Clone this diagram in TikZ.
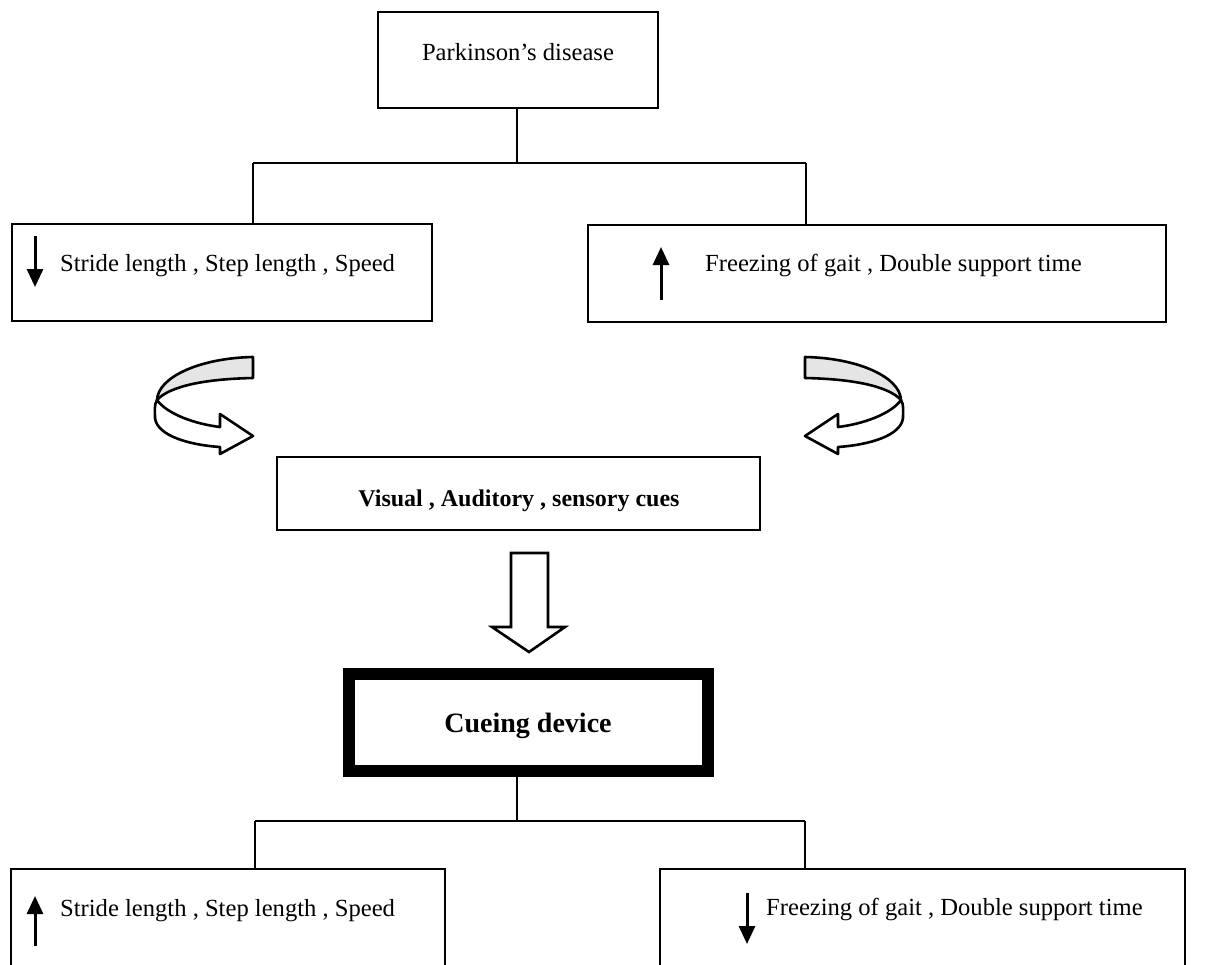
\documentclass[tikz,border=0pt]{standalone}
\usepackage{fontspec}
\setmainfont{Liberation Serif}
\usetikzlibrary{arrows.meta}
\newcommand\turnarrowpaths{%
  % lower (white) band with arrow head
  \draw[band, fill=white] (157,400) .. controls (154,405) and (155,410) .. (155,418)
    .. controls (157,436) and (190,445) .. (220,447) -- (220,454) -- (253,436) -- (220,414)
    -- (220,427) .. controls (195,424) and (167,414) .. (157,400) -- cycle;
  % upper (shaded) band
  \draw[band, fill=gray!20] (253,357) -- (253,378) .. controls (205,379) and (170,386) .. (157,400)
    .. controls (158,377) and (200,358) .. (253,357) -- cycle;
}
\begin{document}
\begin{tikzpicture}[x=1pt,y=-1pt,
  box/.style={draw, line width=2.5pt, inner sep=0pt},
  thickbox/.style={draw, line width=12pt, inner sep=0pt},
  conn/.style={line width=2.5pt},
  band/.style={line width=2.6pt, line join=round},
  txt/.style={inner sep=0pt, font=\fontsize{24.6}{29}\selectfont},
  btxt/.style={inner sep=0pt, font=\fontsize{24}{29}\selectfont\bfseries},
  bigtxt/.style={inner sep=0pt, font=\fontsize{28}{34}\selectfont\bfseries},
  updown/.style={line width=3pt, -{Triangle[length=18pt,width=16pt]}}
]
\fill[white] (0,0) rectangle (1223,964);
\useasboundingbox (0,0) rectangle (1223,964);

% boxes
\node[box, minimum width=280, minimum height=96] (pd) at (518,60) {};
\node[box, minimum width=420, minimum height=97] (tl) at (222,272.5) {};
\node[box, minimum width=578, minimum height=97] (tr) at (877,273.5) {};
\node[box, minimum width=483, minimum height=73] (vis) at (518.5,493.5) {};
\node[thickbox, minimum width=359, minimum height=97] (cue) at (528.5,722.5) {};
\node[box, minimum width=434, minimum height=121] (bl) at (228,929.5) {};
\node[box, minimum width=525, minimum height=121] (br) at (922.5,929.5) {};

% texts
\node[txt, anchor=base] (pdt) at (518,60) {Parkinson’s disease};
\node[txt, anchor=base west] (tlt) at (60,271) {Stride length , Step length , Speed};
\node[txt, anchor=base west] (trt) at (705,271) {Freezing of gait , Double support time};
\node[btxt, anchor=base] (vist) at (519,506) {Visual , Auditory , sensory cues};
\node[bigtxt, anchor=base] (cuet) at (528,732) {Cueing device};
\node[txt, anchor=base west] (blt) at (60,916) {Stride length , Step length , Speed};
\node[txt, anchor=base west] (brt) at (766,915) {Freezing of gait , Double support time};

% small up/down arrows
\draw[updown] (35,236) -- (35,287);
\draw[updown] (661,300) -- (661,247);
\draw[updown] (35,946) -- (35,896);
\draw[updown] (747,893) -- (747,944);

% top connectors
\coordinate (j1l) at (253,163);
\coordinate (j1r) at (806,163);
\coordinate (j1) at (517,163);
\draw[conn] (j1 |- pd.south) -- (j1);
\draw[conn] (j1l) -- (j1r);
\draw[conn] (j1l) -- (j1l |- tl.north);
\draw[conn] (j1r) -- (j1r |- tr.north);

% bottom connectors
\coordinate (j2l) at (255,821);
\coordinate (j2r) at (805,821);
\coordinate (j2) at (517,821);
\draw[conn] (j2 |- cue.south) -- (j2);
\draw[conn] (j2l) -- (j2r);
\draw[conn] (j2l) -- (j2l |- bl.north);
\draw[conn] (j2r) -- (j2r |- br.north);

% curved arrows
\begin{scope}
\turnarrowpaths
\end{scope}
\begin{scope}[xshift=1058pt, xscale=-1]
\turnarrowpaths
\end{scope}

% block arrow down
\draw[line width=2.6pt, line join=miter, fill=white]
  (511,553) -- (548,553) -- (548,627) -- (565,627) -- (529,652) -- (492,627) -- (511,627) -- cycle;
\end{tikzpicture}
\end{document}
